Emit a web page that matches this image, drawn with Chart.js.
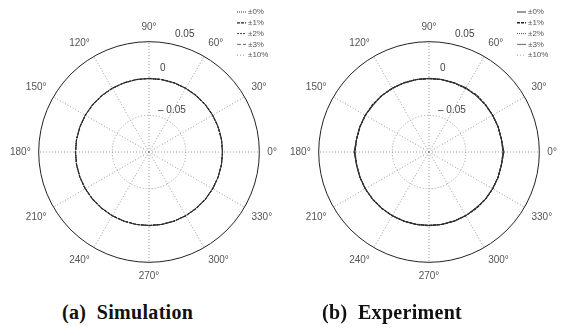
<!DOCTYPE html>
<html>
<head>
<meta charset="utf-8">
<script src="https://cdn.jsdelivr.net/npm/chart.js@4.4.1/dist/chart.umd.min.js"></script>
<style>
  html, body { margin: 0; padding: 0; background: #fff; }
  body { width: 567px; height: 336px; position: relative; overflow: hidden; }
  .box { position: absolute; top: 0; width: 283px; height: 292px; }
  .cap { position: absolute; top: 300px; font-family: "Liberation Serif", "DejaVu Serif", serif;
         font-weight: bold; font-size: 20px; letter-spacing: 0.3px; color: #111; white-space: pre; line-height: 24px; }
</style>
</head>
<body>
<div class="box" style="left:0px"><canvas id="sim" width="283" height="292"></canvas></div>
<div class="box" style="left:280px"><canvas id="exp" width="283" height="292"></canvas></div>
<div class="cap" style="left:62px">(a)  Simulation</div>
<div class="cap" style="left:322px">(b)  Experiment</div>
<script>
// Angles (degrees) for each sample, ordered clockwise starting at the top (90°)
const angles = [90, 80, 70, 60, 50, 40, 30, 20, 10, 0, 350, 340, 330, 320, 310, 300, 290, 280,
                270, 260, 250, 240, 230, 220, 210, 200, 190, 180, 170, 160, 150, 140, 130, 120, 110, 100];
const seriesNames = ['±0%', '±1%', '±2%', '±3%', '±10%'];
const radialTicks = [-0.05, 0, 0.05];
const radialTickLabels = ['\u2013 0.05', '0', '0.05'];

// Simulation: all tolerance levels collapse on the 0 circle
const sim0  = [0,0,0,0,0,0,0,0,0,0,0,0,0,0,0,0,0,0,0,0,0,0,0,0,0,0,0,0,0,0,0,0,0,0,0,0];
const sim1  = [0,0,0,0,0,0,0,0,0,0,0,0,0,0,0,0,0,0,0,0,0,0,0,0,0,0,0,0,0,0,0,0,0,0,0,0];
const sim2  = [0,0,0,0,0,0,0,0,0,0,0,0,0,0,0,0,0,0,0,0,0,0,0,0,0,0,0,0,0,0,0,0,0,0,0,0];
const sim3  = [0,0,0,0,0,0,0,0,0,0,0,0,0,0,0,0,0,0,0,0,0,0,0,0,0,0,0,0,0,0,0,0,0,0,0,0];
const sim10 = [0,0,0,0,0,0,0,0,0,0,0,0,0,0,0,0,0,0,0,0,0,0,0,0,0,0,0,0,0,0,0,0,0,0,0,0];

// Experiment: nearly on the 0 circle, with small deviations
const exp0  = [0,0,0,0.001,0,0,0,0,0,0.002,0,0,0,0,-0.001,0,0,0,0,0,0,0,0,0,0,0,0,0.002,0,0,0,-0.001,0,0,0,0];
const exp1  = [0,0,0,0,0.001,0,0,0,0,0.001,0,0,0,0,0,0,0,0,0,0,0,0,0,0,0,0,0,0.001,0,0,0,0,0,0,0,0];
const exp2  = [0,0,0,0,0,0.001,0,0,0,0.001,0,0,0,0,0,0,0,0,0,0,0,0,0,0,0,0,0,0.001,0,0,0,0,0,0,0,0];
const exp3  = [0,0,0,0,0,0,0,0,0,0.001,0,0,0,0,0,0,0,0,0,0,0,0,0,0,0,0,0,0.001,0,0,0,0,0,0,0,0];
const exp10 = [0,0,0,0,0,0,0,0,0,0,0,0,0,0,0,0,0,0,0,0,0,0,0,0,0,0,0,0,0,0,0,0,0,0,0,0];

const simStyles = [
  {color: '#333', dash: [1, 1], width: 1},
  {color: '#222', dash: [3, 1], width: 1.2},
  {color: '#444', dash: [2, 1], width: 1},
  {color: '#666', dash: [4, 2], width: 1},
  {color: '#999', dash: [1, 2], width: 1}
];
const expStyles = [
  {color: '#333', dash: [], width: 1},
  {color: '#222', dash: [3, 1], width: 1.4},
  {color: '#555', dash: [1, 1], width: 1},
  {color: '#666', dash: [], width: 1},
  {color: '#aaa', dash: [1, 2], width: 1}
];

// label placement offsets (px) relative to each radial circle's top point
const tickDx = [9, 11, 26];
const tickDy = [0, 5, 2];

const tickLabelPlugin = {
  id: 'polarExtras',
  afterDraw(chart) {
    const ctx = chart.ctx;
    const r = chart.scales.r;
    ctx.save();
    ctx.font = '10px "Liberation Sans", Arial, sans-serif';
    ctx.fillStyle = '#444';
    ctx.textAlign = 'left';
    ctx.textBaseline = 'bottom';
    radialTicks.forEach((v, i) => {
      const d = r.getDistanceFromCenterForValue(v);
      ctx.fillText(radialTickLabels[i], r.xCenter + tickDx[i], r.yCenter - d - tickDy[i]);
    });
    // legend
    ctx.font = '8px "Liberation Sans", Arial, sans-serif';
    ctx.textBaseline = 'middle';
    chart.data.datasets.forEach((ds, i) => {
      const y = 12 + i * 10.8;
      ctx.beginPath();
      ctx.setLineDash(ds.borderDash || []);
      ctx.strokeStyle = ds.borderColor;
      ctx.lineWidth = ds.borderWidth;
      ctx.moveTo(237, y);
      ctx.lineTo(246, y);
      ctx.stroke();
      ctx.setLineDash([]);
      ctx.fillStyle = '#555';
      ctx.fillText(ds.label, 248, y);
    });
    ctx.restore();
  }
};

function makeChart(id, seriesList, styles) {
  return new Chart(document.getElementById(id), {
    type: 'radar',
    data: {
      labels: angles.map(a => a + '°'),
      datasets: seriesList.map((s, i) => ({
        label: seriesNames[i],
        data: s,
        borderColor: styles[i].color,
        borderDash: styles[i].dash,
        borderWidth: styles[i].width,
        fill: false,
        pointRadius: 0,
        pointHoverRadius: 0,
        tension: 0
      }))
    },
    options: {
      responsive: false,
      animation: false,
      events: [],
      layout: { padding: { left: 4, right: 0, top: 15, bottom: 3 } },
      plugins: { legend: { display: false }, tooltip: { enabled: false } },
      elements: { line: { borderCapStyle: 'butt' } },
      scales: {
        r: {
          min: -0.1,
          max: 0.05,
          beginAtZero: false,
          ticks: { display: false, stepSize: 0.05 },
          grid: {
            circular: true,
            color: c => (c.tick && c.tick.value === 0.05) ? '#222' : '#999',
            lineWidth: 1,
            borderDash: c => (c.tick && c.tick.value === 0.05) ? [] : [1, 2]
          },
          border: {
            dash: c => (c.tick && c.tick.value === 0.05) ? [] : [1, 2]
          },
          angleLines: {
            display: true,
            color: '#999',
            lineWidth: c => (angles[c.index] % 30 === 0) ? 1 : 0,
            borderDash: [1, 2]
          },
          pointLabels: {
            display: true,
            padding: 8,
            font: { size: 10, family: '"Liberation Sans", Arial, sans-serif' },
            color: '#555',
            callback: (label, i) => (angles[i] % 30 === 0) ? label : ''
          }
        }
      }
    },
    plugins: [tickLabelPlugin]
  });
}

makeChart('sim', [sim0, sim1, sim2, sim3, sim10], simStyles);
makeChart('exp', [exp0, exp1, exp2, exp3, exp10], expStyles);
</script>
</body>
</html>
